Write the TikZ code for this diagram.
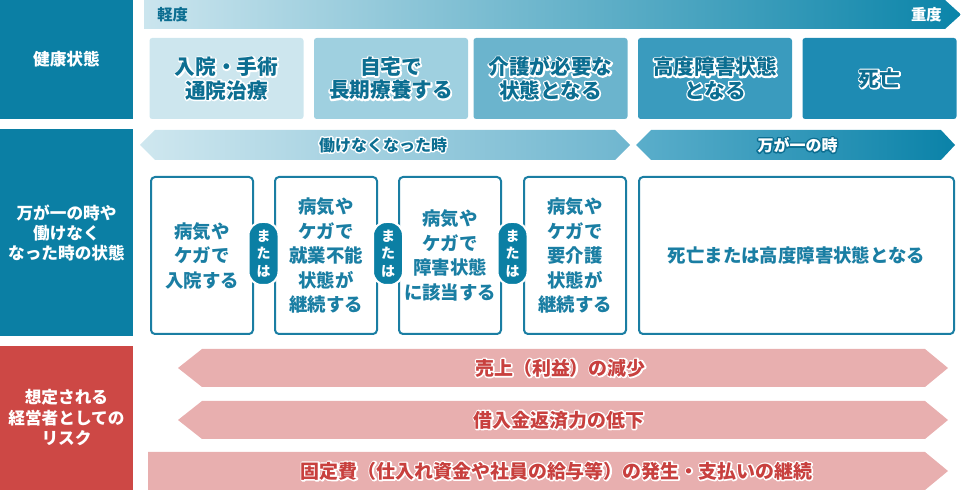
\documentclass[tikz,border=0pt]{standalone}
\usepackage{fontspec}
\setmainfont{Noto Sans CJK JP}
\usetikzlibrary{positioning}
\definecolor{headblue}{HTML}{0B7FA4}
\definecolor{riskred}{HTML}{CD4845}
\definecolor{riskpink}{HTML}{E8AFAF}
\definecolor{risktext}{HTML}{C8403E}
\definecolor{deepteal}{HTML}{0C6E91}
\definecolor{caseblue}{HTML}{1A7EA3}
\definecolor{lvA}{HTML}{CDE6EE}
\definecolor{lvB}{HTML}{9FD0E0}
\definecolor{lvC}{HTML}{6BB4CD}
\definecolor{lvD}{HTML}{3A9BBE}
\definecolor{lvE}{HTML}{1E8BB3}
\definecolor{barlight}{HTML}{CBE5EE}
\definecolor{bardark}{HTML}{0A84A9}
\definecolor{workL}{HTML}{CFE7EF}
\definecolor{workR}{HTML}{6FB6CF}
\definecolor{deathL}{HTML}{5BAECB}
\definecolor{deathR}{HTML}{0A82A8}
% outlined text: stroked copy underneath, filled copy on top
\newcommand{\hw}[1]{\leavevmode\rlap{\special{pdf:literal direct 1 Tr 2.2 w 1 j 1 1 1 RG}#1\special{pdf:literal direct 0 Tr}}#1}
\newcommand{\hd}[1]{\leavevmode\rlap{\special{pdf:literal direct 1 Tr 2.2 w 1 j 0.047 0.431 0.569 RG}#1\special{pdf:literal direct 0 Tr}}#1}

\begin{document}
\begin{tikzpicture}[x=0.75pt, y=-0.75pt,
    side/.style={rectangle, fill=headblue, text=white, minimum width=133*.75pt, inner sep=0pt, align=center, font=\bfseries\fontsize{12.5}{15}\selectfont},
    sevbox/.style={rectangle, rounded corners=2pt, minimum width=154*.75pt, minimum height=81*.75pt, inner sep=0pt, align=center, text=deepteal, font=\bfseries\fontsize{15.5}{17.5}\selectfont},
    casebox/.style={rectangle, draw=caseblue, line width=1.5pt, fill=white, rounded corners=3pt, minimum width=102*.75pt, minimum height=157*.75pt, inner sep=0pt, align=center, text=caseblue, font=\bfseries\fontsize{13.8}{18.4}\selectfont},
    orpill/.style={rectangle, fill=headblue, draw=white, line width=1.5pt, rounded corners=10pt, minimum width=30*.75pt, minimum height=63*.75pt, inner sep=0pt, align=center, text=white, font=\bfseries\fontsize{10.5}{13}\selectfont},
    bartext/.style={inner sep=0pt, font=\bfseries\fontsize{11.5}{14}\selectfont},
    risktxt/.style={inner sep=0pt, text=risktext, font=\bfseries\fontsize{14.2}{16}\selectfont}]

    \useasboundingbox (0,0) rectangle (961,491);

    % Row headers
    \node[side, minimum height=119*.75pt] (health) at (66.5,59.5) {健康状態};
    \node[side, minimum height=207*.75pt] (state) at (66.5,232.5) {万が一の時や\\働けなく\\なった時の状態};
    \node[side, fill=riskred, minimum height=144*.75pt, font=\bfseries\fontsize{12.5}{15.4}\selectfont] (risk) at (66.5,418) {想定される\\経営者としての\\リスク};

    % Severity bar
    \shade[left color=barlight, right color=bardark] (144,0) -- (945,0) -- (961,14.5) -- (945,29) -- (144,29) -- cycle;
    \node[bartext, text=deepteal, anchor=west] (mild) at (157,15) {軽度};
    \node[bartext, text=white, anchor=east] (heavy) at (942,15) {重度};

    % Health levels
    \node[sevbox, fill=lvA] (lvone) at (226.5,78.5) {\hw{入院・手術}\\\hw{通院治療}};
    \node[sevbox, fill=lvB] (lvtwo) at (391,78.5) {\hw{自宅で}\\\hw{長期療養する}};
    \node[sevbox, fill=lvC] (lvthree) at (550.5,78.5) {\hw{介護が必要な}\\\hw{状態となる}};
    \node[sevbox, fill=lvD] (lvfour) at (715,78.5) {\hw{高度障害状態}\\\hw{となる}};
    \node[sevbox, fill=lvE] (lvfive) at (879.5,78.5) {\hw{死亡}};

    % Situation arrows
    \shade[left color=workL, right color=workR] (140,145) -- (155,130) -- (615,130) -- (630,145) -- (615,160) -- (155,160) -- cycle;
    \shade[left color=deathL, right color=deathR] (636,145) -- (651,130) -- (941,130) -- (955,145) -- (941,160) -- (651,160) -- cycle;
    \node[bartext, text=deepteal, font=\bfseries\fontsize{12}{14}\selectfont] (nowork) at (383,145) {\hw{働けなくなった時}};
    \node[bartext, text=white, font=\bfseries\fontsize{12}{14}\selectfont] (emerg) at (797.5,145) {\hd{万が一の時}};

    % Cases
    \node[casebox] (hosp) at (202,255.5) {病気や\\ケガで\\入院する};
    \node[casebox] (unable) at (326,255.5) {病気や\\ケガで\\就業不能\\状態が\\継続する};
    \node[casebox] (disab) at (450,255.5) {病気や\\ケガで\\障害状態\\に該当する};
    \node[casebox] (care) at (575,255.5) {病気や\\ケガで\\要介護\\状態が\\継続する};
    \node[casebox, minimum width=315*.75pt] (death) at (796.5,255.5) {死亡または高度障害状態となる};

    % "or" pills
    \node[orpill] (orA) at (263.5,253.5) {ま\\た\\は};
    \node[orpill] (orB) at (388,253.5) {ま\\た\\は};
    \node[orpill] (orC) at (512.5,253.5) {ま\\た\\は};

    % Risk arrows
    \fill[riskpink] (178,368) -- (202,349) -- (925,349) -- (948,368) -- (925,387) -- (202,387) -- cycle;
    \fill[riskpink] (178,420) -- (202,401) -- (925,401) -- (948,420) -- (925,439) -- (202,439) -- cycle;
    \fill[riskpink] (148,452) -- (925,452) -- (948,471) -- (925,490) -- (148,490) -- cycle;
    \node[risktxt] (sales) at (560.5,368) {\hw{売上（利益）の減少}};
    \node[risktxt] (repay) at (559,420) {\hw{借入金返済力の低下}};
    \node[risktxt] (fixed) at (556.5,471) {\hw{固定費（仕入れ資金や社員の給与等）の発生・支払いの継続}};
\end{tikzpicture}
\end{document}
